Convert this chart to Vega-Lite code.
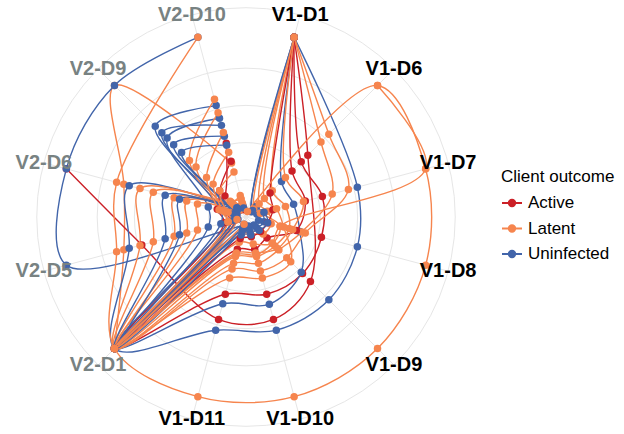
{
  "$schema": "https://vega.github.io/schema/vega-lite/v6.json",
  "width": 492,
  "height": 434,
  "padding": {"left": 0, "top": 0, "right": 132, "bottom": 0},
  "autosize": {"type": "none"},
  "background": "white",
  "config": {"view": {"stroke": null}, "font": "Liberation Sans"},
  "datasets": {
    "visits": [
      {"visit": "V1-D1", "k": 0, "grp": "V1"},
      {"visit": "V1-D6", "k": 1, "grp": "V1"},
      {"visit": "V1-D7", "k": 2, "grp": "V1"},
      {"visit": "V1-D8", "k": 3, "grp": "V1"},
      {"visit": "V1-D9", "k": 4, "grp": "V1"},
      {"visit": "V1-D10", "k": 5, "grp": "V1"},
      {"visit": "V1-D11", "k": 6, "grp": "V1"},
      {"visit": "V2-D1", "k": 7, "grp": "V2"},
      {"visit": "V2-D5", "k": 8, "grp": "V2"},
      {"visit": "V2-D6", "k": 9, "grp": "V2"},
      {"visit": "V2-D9", "k": 10, "grp": "V2"},
      {"visit": "V2-D10", "k": 11, "grp": "V2"}
    ],
    "grid": [{"g": 0.2}, {"g": 0.4}, {"g": 0.6}, {"g": 0.8}, {"g": 1.125}],
    "clients": [
      {"id": "O3", "outcome": "Latent", "visit": "V2-D1", "r": 1},
      {"id": "O3", "outcome": "Latent", "visit": "V2-D5", "r": 0.68},
      {"id": "O3", "outcome": "Latent", "visit": "V2-D6", "r": 0.68},
      {"id": "O3", "outcome": "Latent", "visit": "V2-D9", "r": 1},
      {"id": "O3", "outcome": "Latent", "visit": "V2-D10", "r": 0.3},

      {"id": "A3", "outcome": "Active", "visit": "V1-D1", "r": 1},
      {"id": "A3", "outcome": "Active", "visit": "V1-D6", "r": 0.47},
      {"id": "A3", "outcome": "Active", "visit": "V1-D9", "r": 0.49},
      {"id": "A3", "outcome": "Active", "visit": "V1-D10", "r": 0.57},
      {"id": "A3", "outcome": "Active", "visit": "V1-D11", "r": 0.57},
      {"id": "A3", "outcome": "Active", "visit": "V2-D5", "r": 0.58},
      {"id": "A3", "outcome": "Active", "visit": "V2-D6", "r": 1},

      {"id": "B1", "outcome": "Uninfected", "visit": "V1-D6", "r": 0.08},
      {"id": "B1", "outcome": "Uninfected", "visit": "V1-D7", "r": 0.09},
      {"id": "B1", "outcome": "Uninfected", "visit": "V1-D8", "r": 0.1},
      {"id": "B1", "outcome": "Uninfected", "visit": "V1-D9", "r": 0.08},
      {"id": "B1", "outcome": "Uninfected", "visit": "V1-D10", "r": 0.06},
      {"id": "B1", "outcome": "Uninfected", "visit": "V1-D11", "r": 0.05},
      {"id": "B1", "outcome": "Uninfected", "visit": "V2-D5", "r": 1},
      {"id": "B1", "outcome": "Uninfected", "visit": "V2-D6", "r": 1},
      {"id": "B1", "outcome": "Uninfected", "visit": "V2-D9", "r": 1},
      {"id": "B1", "outcome": "Uninfected", "visit": "V2-D10", "r": 1},

      {"id": "C18", "outcome": "Uninfected", "visit": "V1-D1", "r": 1},
      {"id": "C18", "outcome": "Uninfected", "visit": "V1-D6", "r": 0.04},
      {"id": "C18", "outcome": "Uninfected", "visit": "V1-D7", "r": 0.06},
      {"id": "C18", "outcome": "Uninfected", "visit": "V1-D8", "r": 0.07},
      {"id": "C18", "outcome": "Uninfected", "visit": "V1-D9", "r": 0.06},
      {"id": "C18", "outcome": "Uninfected", "visit": "V1-D10", "r": 0.05},
      {"id": "C18", "outcome": "Uninfected", "visit": "V1-D11", "r": 0.04},
      {"id": "C18", "outcome": "Uninfected", "visit": "V2-D1", "r": 1},
      {"id": "C18", "outcome": "Uninfected", "visit": "V2-D5", "r": 0.21},
      {"id": "C18", "outcome": "Uninfected", "visit": "V2-D6", "r": 0.21},
      {"id": "C18", "outcome": "Uninfected", "visit": "V2-D9", "r": 0.6},
      {"id": "C18", "outcome": "Uninfected", "visit": "V2-D10", "r": 0.55},

      {"id": "A1", "outcome": "Uninfected", "visit": "V1-D1", "r": 1},
      {"id": "A1", "outcome": "Uninfected", "visit": "V1-D7", "r": 0.62},
      {"id": "A1", "outcome": "Uninfected", "visit": "V1-D8", "r": 0.62},
      {"id": "A1", "outcome": "Uninfected", "visit": "V1-D9", "r": 0.63},
      {"id": "A1", "outcome": "Uninfected", "visit": "V1-D10", "r": 0.63},
      {"id": "A1", "outcome": "Uninfected", "visit": "V1-D11", "r": 0.63},
      {"id": "A1", "outcome": "Uninfected", "visit": "V2-D1", "r": 1},
      {"id": "A1", "outcome": "Uninfected", "visit": "V2-D5", "r": 0.65},
      {"id": "A1", "outcome": "Uninfected", "visit": "V2-D6", "r": 0.65},
      {"id": "A1", "outcome": "Uninfected", "visit": "V2-D9", "r": 0.08},
      {"id": "A1", "outcome": "Uninfected", "visit": "V2-D10", "r": 0.06},

      {"id": "A2", "outcome": "Active", "visit": "V1-D1", "r": 1},
      {"id": "A2", "outcome": "Active", "visit": "V1-D6", "r": 0.42},
      {"id": "A2", "outcome": "Active", "visit": "V1-D7", "r": 0.425},
      {"id": "A2", "outcome": "Active", "visit": "V1-D8", "r": 0.42},
      {"id": "A2", "outcome": "Active", "visit": "V1-D9", "r": 0.43},
      {"id": "A2", "outcome": "Active", "visit": "V1-D10", "r": 0.43},
      {"id": "A2", "outcome": "Active", "visit": "V1-D11", "r": 0.43},
      {"id": "A2", "outcome": "Active", "visit": "V2-D1", "r": 1},
      {"id": "A2", "outcome": "Active", "visit": "V2-D5", "r": 0.12},
      {"id": "A2", "outcome": "Active", "visit": "V2-D6", "r": 0.16},
      {"id": "A2", "outcome": "Active", "visit": "V2-D9", "r": 0.16},
      {"id": "A2", "outcome": "Active", "visit": "V2-D10", "r": 0.41},

      {"id": "A4", "outcome": "Uninfected", "visit": "V1-D1", "r": 1},
      {"id": "A4", "outcome": "Uninfected", "visit": "V1-D6", "r": 0.27},
      {"id": "A4", "outcome": "Uninfected", "visit": "V1-D7", "r": 0.265},
      {"id": "A4", "outcome": "Uninfected", "visit": "V1-D8", "r": 0.3},
      {"id": "A4", "outcome": "Uninfected", "visit": "V1-D9", "r": 0.42},
      {"id": "A4", "outcome": "Uninfected", "visit": "V1-D10", "r": 0.485},
      {"id": "A4", "outcome": "Uninfected", "visit": "V1-D11", "r": 0.483},
      {"id": "A4", "outcome": "Uninfected", "visit": "V2-D1", "r": 1},
      {"id": "A4", "outcome": "Uninfected", "visit": "V2-D5", "r": 0.1},
      {"id": "A4", "outcome": "Uninfected", "visit": "V2-D6", "r": 0.1},
      {"id": "A4", "outcome": "Uninfected", "visit": "V2-D9", "r": 0.69},
      {"id": "A4", "outcome": "Uninfected", "visit": "V2-D10", "r": 0.62},

      {"id": "A5", "outcome": "Latent", "visit": "V1-D1", "r": 1},
      {"id": "A5", "outcome": "Latent", "visit": "V1-D6", "r": 0.63},
      {"id": "A5", "outcome": "Latent", "visit": "V1-D7", "r": 0.57},
      {"id": "A5", "outcome": "Latent", "visit": "V1-D8", "r": 0.33},
      {"id": "A5", "outcome": "Latent", "visit": "V1-D9", "r": 0.31},
      {"id": "A5", "outcome": "Latent", "visit": "V1-D10", "r": 0.3},
      {"id": "A5", "outcome": "Latent", "visit": "V1-D11", "r": 0.29},
      {"id": "A5", "outcome": "Latent", "visit": "V2-D1", "r": 1},
      {"id": "A5", "outcome": "Latent", "visit": "V2-D5", "r": 0.59},
      {"id": "A5", "outcome": "Latent", "visit": "V2-D6", "r": 0.59},
      {"id": "A5", "outcome": "Latent", "visit": "V2-D9", "r": 0.1},
      {"id": "A5", "outcome": "Latent", "visit": "V2-D10", "r": 0.08},

      {"id": "A6", "outcome": "Latent", "visit": "V1-D1", "r": 1},
      {"id": "A6", "outcome": "Latent", "visit": "V1-D6", "r": 0.57},
      {"id": "A6", "outcome": "Latent", "visit": "V1-D7", "r": 0.48},
      {"id": "A6", "outcome": "Latent", "visit": "V1-D8", "r": 0.31},
      {"id": "A6", "outcome": "Latent", "visit": "V1-D9", "r": 0.25},
      {"id": "A6", "outcome": "Latent", "visit": "V1-D10", "r": 0.258},
      {"id": "A6", "outcome": "Latent", "visit": "V1-D11", "r": 0.258},
      {"id": "A6", "outcome": "Latent", "visit": "V2-D1", "r": 1},
      {"id": "A6", "outcome": "Latent", "visit": "V2-D5", "r": 0.516},
      {"id": "A6", "outcome": "Latent", "visit": "V2-D6", "r": 0.516},
      {"id": "A6", "outcome": "Latent", "visit": "V2-D9", "r": 0.12},
      {"id": "A6", "outcome": "Latent", "visit": "V2-D10", "r": 0.1},

      {"id": "A7", "outcome": "Active", "visit": "V1-D1", "r": 1},
      {"id": "A7", "outcome": "Active", "visit": "V1-D6", "r": 0.35},
      {"id": "A7", "outcome": "Active", "visit": "V1-D7", "r": 0.33},
      {"id": "A7", "outcome": "Active", "visit": "V1-D8", "r": 0.28},
      {"id": "A7", "outcome": "Active", "visit": "V1-D9", "r": 0.16},
      {"id": "A7", "outcome": "Active", "visit": "V1-D10", "r": 0.18},
      {"id": "A7", "outcome": "Active", "visit": "V1-D11", "r": 0.18},
      {"id": "A7", "outcome": "Active", "visit": "V2-D1", "r": 1},
      {"id": "A7", "outcome": "Active", "visit": "V2-D5", "r": 0.08},
      {"id": "A7", "outcome": "Active", "visit": "V2-D6", "r": 0.14},
      {"id": "A7", "outcome": "Active", "visit": "V2-D9", "r": 0.2},
      {"id": "A7", "outcome": "Active", "visit": "V2-D10", "r": 0.31},

      {"id": "A8", "outcome": "Latent", "visit": "V1-D1", "r": 1},
      {"id": "A8", "outcome": "Latent", "visit": "V1-D6", "r": 0.2},
      {"id": "A8", "outcome": "Latent", "visit": "V1-D7", "r": 0.22},
      {"id": "A8", "outcome": "Latent", "visit": "V1-D8", "r": 0.24},
      {"id": "A8", "outcome": "Latent", "visit": "V1-D9", "r": 0.22},
      {"id": "A8", "outcome": "Latent", "visit": "V1-D10", "r": 0.22},
      {"id": "A8", "outcome": "Latent", "visit": "V1-D11", "r": 0.22},
      {"id": "A8", "outcome": "Latent", "visit": "V2-D1", "r": 1},
      {"id": "A8", "outcome": "Latent", "visit": "V2-D5", "r": 0.4},
      {"id": "A8", "outcome": "Latent", "visit": "V2-D6", "r": 0.4},
      {"id": "A8", "outcome": "Latent", "visit": "V2-D9", "r": 0.09},
      {"id": "A8", "outcome": "Latent", "visit": "V2-D10", "r": 0.07},

      {"id": "A9", "outcome": "Latent", "visit": "V1-D1", "r": 1},
      {"id": "A9", "outcome": "Latent", "visit": "V1-D6", "r": 0.1},
      {"id": "A9", "outcome": "Latent", "visit": "V1-D7", "r": 0.12},
      {"id": "A9", "outcome": "Latent", "visit": "V1-D8", "r": 0.14},
      {"id": "A9", "outcome": "Latent", "visit": "V1-D9", "r": 0.13},
      {"id": "A9", "outcome": "Latent", "visit": "V1-D10", "r": 0.09},
      {"id": "A9", "outcome": "Latent", "visit": "V1-D11", "r": 0.09},
      {"id": "A9", "outcome": "Latent", "visit": "V2-D1", "r": 1},
      {"id": "A9", "outcome": "Latent", "visit": "V2-D5", "r": 0.06},
      {"id": "A9", "outcome": "Latent", "visit": "V2-D6", "r": 0.09},
      {"id": "A9", "outcome": "Latent", "visit": "V2-D9", "r": 0.38},
      {"id": "A9", "outcome": "Latent", "visit": "V2-D10", "r": 0.58},

      {"id": "A10", "outcome": "Latent", "visit": "V1-D1", "r": 1},
      {"id": "A10", "outcome": "Latent", "visit": "V1-D6", "r": 0.06},
      {"id": "A10", "outcome": "Latent", "visit": "V1-D7", "r": 0.08},
      {"id": "A10", "outcome": "Latent", "visit": "V1-D8", "r": 0.19},
      {"id": "A10", "outcome": "Latent", "visit": "V1-D9", "r": 0.2},
      {"id": "A10", "outcome": "Latent", "visit": "V1-D10", "r": 0.15},
      {"id": "A10", "outcome": "Latent", "visit": "V1-D11", "r": 0.14},
      {"id": "A10", "outcome": "Latent", "visit": "V2-D1", "r": 1},
      {"id": "A10", "outcome": "Latent", "visit": "V2-D5", "r": 0.33},
      {"id": "A10", "outcome": "Latent", "visit": "V2-D6", "r": 0.33},
      {"id": "A10", "outcome": "Latent", "visit": "V2-D9", "r": 0.11},
      {"id": "A10", "outcome": "Latent", "visit": "V2-D10", "r": 0.12},

      {"id": "A11", "outcome": "Active", "visit": "V1-D1", "r": 1},
      {"id": "A11", "outcome": "Active", "visit": "V1-D6", "r": 0.183},
      {"id": "A11", "outcome": "Active", "visit": "V1-D7", "r": 0.15},
      {"id": "A11", "outcome": "Active", "visit": "V1-D8", "r": 0.12},
      {"id": "A11", "outcome": "Active", "visit": "V1-D9", "r": 0.11},
      {"id": "A11", "outcome": "Active", "visit": "V1-D10", "r": 0.11},
      {"id": "A11", "outcome": "Active", "visit": "V1-D11", "r": 0.12},
      {"id": "A11", "outcome": "Active", "visit": "V2-D1", "r": 1},
      {"id": "A11", "outcome": "Active", "visit": "V2-D5", "r": 0.05},
      {"id": "A11", "outcome": "Active", "visit": "V2-D6", "r": 0.06},
      {"id": "A11", "outcome": "Active", "visit": "V2-D9", "r": 0.05},
      {"id": "A11", "outcome": "Active", "visit": "V2-D10", "r": 0.04},

      {"id": "A12", "outcome": "Latent", "visit": "V1-D1", "r": 1},
      {"id": "A12", "outcome": "Latent", "visit": "V1-D6", "r": 0.3},
      {"id": "A12", "outcome": "Latent", "visit": "V1-D7", "r": 0.32},
      {"id": "A12", "outcome": "Latent", "visit": "V1-D8", "r": 0.26},
      {"id": "A12", "outcome": "Latent", "visit": "V1-D9", "r": 0.24},
      {"id": "A12", "outcome": "Latent", "visit": "V1-D10", "r": 0.2},
      {"id": "A12", "outcome": "Latent", "visit": "V1-D11", "r": 0.2},
      {"id": "A12", "outcome": "Latent", "visit": "V2-D1", "r": 1},
      {"id": "A12", "outcome": "Latent", "visit": "V2-D5", "r": 0.08},
      {"id": "A12", "outcome": "Latent", "visit": "V2-D6", "r": 0.12},
      {"id": "A12", "outcome": "Latent", "visit": "V2-D9", "r": 0.43},
      {"id": "A12", "outcome": "Latent", "visit": "V2-D10", "r": 0.655},

      {"id": "A13", "outcome": "Uninfected", "visit": "V1-D1", "r": 1},
      {"id": "A13", "outcome": "Uninfected", "visit": "V1-D6", "r": 0.05},
      {"id": "A13", "outcome": "Uninfected", "visit": "V1-D7", "r": 0.1},
      {"id": "A13", "outcome": "Uninfected", "visit": "V1-D8", "r": 0.12},
      {"id": "A13", "outcome": "Uninfected", "visit": "V1-D9", "r": 0.1},
      {"id": "A13", "outcome": "Uninfected", "visit": "V1-D10", "r": 0.08},
      {"id": "A13", "outcome": "Uninfected", "visit": "V1-D11", "r": 0.07},
      {"id": "A13", "outcome": "Uninfected", "visit": "V2-D1", "r": 1},
      {"id": "A13", "outcome": "Uninfected", "visit": "V2-D5", "r": 0.14},
      {"id": "A13", "outcome": "Uninfected", "visit": "V2-D6", "r": 0.14},
      {"id": "A13", "outcome": "Uninfected", "visit": "V2-D9", "r": 0.64},
      {"id": "A13", "outcome": "Uninfected", "visit": "V2-D10", "r": 0.51},

      {"id": "A14", "outcome": "Latent", "visit": "V1-D1", "r": 1},
      {"id": "A14", "outcome": "Latent", "visit": "V1-D6", "r": 0.14},
      {"id": "A14", "outcome": "Latent", "visit": "V1-D7", "r": 0.17},
      {"id": "A14", "outcome": "Latent", "visit": "V1-D8", "r": 0.21},
      {"id": "A14", "outcome": "Latent", "visit": "V1-D9", "r": 0.34},
      {"id": "A14", "outcome": "Latent", "visit": "V1-D10", "r": 0.34},
      {"id": "A14", "outcome": "Latent", "visit": "V1-D11", "r": 0.34},
      {"id": "A14", "outcome": "Latent", "visit": "V2-D1", "r": 1},
      {"id": "A14", "outcome": "Latent", "visit": "V2-D5", "r": 0.27},
      {"id": "A14", "outcome": "Latent", "visit": "V2-D6", "r": 0.27},
      {"id": "A14", "outcome": "Latent", "visit": "V2-D9", "r": 0.05},
      {"id": "A14", "outcome": "Latent", "visit": "V2-D10", "r": 0.05},

      {"id": "C19", "outcome": "Uninfected", "visit": "V1-D11", "r": 0.06},
      {"id": "C19", "outcome": "Uninfected", "visit": "V2-D1", "r": 1},
      {"id": "C19", "outcome": "Uninfected", "visit": "V2-D5", "r": 0.07},
      {"id": "C19", "outcome": "Uninfected", "visit": "V2-D6", "r": 0.07},
      {"id": "C19", "outcome": "Uninfected", "visit": "V2-D9", "r": 0.55},
      {"id": "C19", "outcome": "Uninfected", "visit": "V2-D10", "r": 0.45},

      {"id": "C20", "outcome": "Uninfected", "visit": "V1-D10", "r": 0.1},
      {"id": "C20", "outcome": "Uninfected", "visit": "V1-D11", "r": 0.1},
      {"id": "C20", "outcome": "Uninfected", "visit": "V2-D1", "r": 1},
      {"id": "C20", "outcome": "Uninfected", "visit": "V2-D5", "r": 0.045},
      {"id": "C20", "outcome": "Uninfected", "visit": "V2-D6", "r": 0.05},
      {"id": "C20", "outcome": "Uninfected", "visit": "V2-D9", "r": 0.49},
      {"id": "C20", "outcome": "Uninfected", "visit": "V2-D10", "r": 0.4},

      {"id": "C21", "outcome": "Uninfected", "visit": "V1-D11", "r": 0.08},
      {"id": "C21", "outcome": "Uninfected", "visit": "V2-D1", "r": 1},
      {"id": "C21", "outcome": "Uninfected", "visit": "V2-D5", "r": 0.45},
      {"id": "C21", "outcome": "Uninfected", "visit": "V2-D6", "r": 0.45},
      {"id": "C21", "outcome": "Uninfected", "visit": "V2-D9", "r": 0.06},
      {"id": "C21", "outcome": "Uninfected", "visit": "V2-D10", "r": 0.05},

      {"id": "C22", "outcome": "Uninfected", "visit": "V2-D1", "r": 1},
      {"id": "C22", "outcome": "Uninfected", "visit": "V2-D5", "r": 0.37},
      {"id": "C22", "outcome": "Uninfected", "visit": "V2-D6", "r": 0.37},
      {"id": "C22", "outcome": "Uninfected", "visit": "V2-D9", "r": 0.07},

      {"id": "O1", "outcome": "Latent", "visit": "V1-D1", "r": 0.03},
      {"id": "O1", "outcome": "Latent", "visit": "V1-D6", "r": 1},
      {"id": "O1", "outcome": "Latent", "visit": "V1-D7", "r": 1},
      {"id": "O1", "outcome": "Latent", "visit": "V1-D8", "r": 1},
      {"id": "O1", "outcome": "Latent", "visit": "V1-D9", "r": 1},
      {"id": "O1", "outcome": "Latent", "visit": "V1-D10", "r": 1},
      {"id": "O1", "outcome": "Latent", "visit": "V1-D11", "r": 1},
      {"id": "O1", "outcome": "Latent", "visit": "V2-D1", "r": 1},
      {"id": "O1", "outcome": "Latent", "visit": "V2-D5", "r": 0.72},
      {"id": "O1", "outcome": "Latent", "visit": "V2-D6", "r": 0.72},
      {"id": "O1", "outcome": "Latent", "visit": "V2-D10", "r": 1},

      {"id": "O2", "outcome": "Latent", "visit": "V1-D6", "r": 1},
      {"id": "O2", "outcome": "Latent", "visit": "V1-D7", "r": 1},
      {"id": "O2", "outcome": "Latent", "visit": "V1-D8", "r": 0.19},
      {"id": "O2", "outcome": "Latent", "visit": "V1-D9", "r": 0.2},
      {"id": "O2", "outcome": "Latent", "visit": "V1-D10", "r": 0.21},
      {"id": "O2", "outcome": "Latent", "visit": "V1-D11", "r": 0.21},
      {"id": "O2", "outcome": "Latent", "visit": "V2-D1", "r": 1},
      {"id": "O2", "outcome": "Latent", "visit": "V2-D5", "r": 0.1},
      {"id": "O2", "outcome": "Latent", "visit": "V2-D6", "r": 0.15},
      {"id": "O2", "outcome": "Latent", "visit": "V2-D9", "r": 0.3},
      {"id": "O2", "outcome": "Latent", "visit": "V2-D10", "r": 0.47},

      {"id": "C23", "outcome": "Latent", "visit": "V1-D11", "r": 0.04},
      {"id": "C23", "outcome": "Latent", "visit": "V2-D1", "r": 1},
      {"id": "C23", "outcome": "Latent", "visit": "V2-D5", "r": 0.1},
      {"id": "C23", "outcome": "Latent", "visit": "V2-D6", "r": 0.13},
      {"id": "C23", "outcome": "Latent", "visit": "V2-D9", "r": 0.25},
      {"id": "C23", "outcome": "Latent", "visit": "V2-D10", "r": 0.36},

      {"id": "C24", "outcome": "Latent", "visit": "V2-D1", "r": 1},
      {"id": "C24", "outcome": "Latent", "visit": "V2-D5", "r": 0.05},
      {"id": "C24", "outcome": "Latent", "visit": "V2-D6", "r": 0.1},
      {"id": "C24", "outcome": "Latent", "visit": "V2-D9", "r": 0.2},
      {"id": "C24", "outcome": "Latent", "visit": "V2-D10", "r": 0.25}
    ]
  },
  "layer": [
    {
      "data": {"name": "grid"},
      "transform": [{"calculate": "0", "as": "c0"}],
      "mark": {"type": "point", "shape": "circle", "filled": false, "stroke": "#e6e6e6", "strokeWidth": 1, "opacity": 1},
      "encoding": {
        "x": {"field": "c0", "type": "quantitative", "scale": {"domain": [-1.3226, 1.3226], "nice": false, "zero": false}, "axis": null},
        "y": {"field": "c0", "type": "quantitative", "scale": {"domain": [-1.1667, 1.1667], "nice": false, "zero": false}, "axis": null},
        "size": {"field": "g", "type": "quantitative", "scale": {"type": "pow", "exponent": 2, "domain": [0, 1], "range": [0, 138384], "zero": true, "nice": false}, "legend": null}
      }
    },
    {
      "data": {"name": "visits"},
      "transform": [
        {"calculate": "(15 + 30 * datum.k) * PI / 180", "as": "a"},
        {"calculate": "0", "as": "c0"},
        {"calculate": "1.125 * sin(datum.a)", "as": "ex"},
        {"calculate": "1.125 * cos(datum.a)", "as": "ey"}
      ],
      "mark": {"type": "rule", "stroke": "#e6e6e6", "strokeWidth": 1},
      "encoding": {
        "x": {"field": "c0", "type": "quantitative", "scale": {"domain": [-1.3226, 1.3226], "nice": false, "zero": false}, "axis": null},
        "y": {"field": "c0", "type": "quantitative", "scale": {"domain": [-1.1667, 1.1667], "nice": false, "zero": false}, "axis": null},
        "x2": {"field": "ex"},
        "y2": {"field": "ey"}
      }
    },
    {
      "data": {"name": "clients"},
      "transform": [
        {"lookup": "visit", "from": {"data": {"name": "visits"}, "key": "visit", "fields": ["k"]}},
        {"calculate": "(15 + 30 * datum.k) * PI / 180", "as": "a"},
        {"calculate": "datum.r * sin(datum.a)", "as": "px"},
        {"calculate": "datum.r * cos(datum.a)", "as": "py"}
      ],
      "mark": {"type": "line", "interpolate": "catmull-rom", "strokeWidth": 1.4},
      "encoding": {
        "x": {"field": "px", "type": "quantitative", "scale": {"domain": [-1.3226, 1.3226], "nice": false, "zero": false}, "axis": null},
        "y": {"field": "py", "type": "quantitative", "scale": {"domain": [-1.1667, 1.1667], "nice": false, "zero": false}, "axis": null},
        "detail": {"field": "id", "type": "nominal"},
        "order": {"field": "k", "type": "quantitative"},
        "color": {"field": "outcome", "type": "nominal", "scale": {"domain": ["Active", "Latent", "Uninfected"], "range": ["#CB2027", "#F6854E", "#4265AA"]}}
      }
    },
    {
      "data": {"name": "clients"},
      "transform": [
        {"lookup": "visit", "from": {"data": {"name": "visits"}, "key": "visit", "fields": ["k"]}},
        {"calculate": "(15 + 30 * datum.k) * PI / 180", "as": "a"},
        {"calculate": "datum.r * sin(datum.a)", "as": "px"},
        {"calculate": "datum.r * cos(datum.a)", "as": "py"}
      ],
      "mark": {"type": "circle", "size": 56, "opacity": 1},
      "encoding": {
        "x": {"field": "px", "type": "quantitative", "scale": {"domain": [-1.3226, 1.3226], "nice": false, "zero": false}, "axis": null},
        "y": {"field": "py", "type": "quantitative", "scale": {"domain": [-1.1667, 1.1667], "nice": false, "zero": false}, "axis": null},
        "color": {
          "field": "outcome", "type": "nominal",
          "scale": {"domain": ["Active", "Latent", "Uninfected"], "range": ["#CB2027", "#F6854E", "#4265AA"]},
          "legend": {
            "title": "Client outcome", "orient": "none", "legendX": 501, "legendY": 169,
            "titleFontSize": 17, "titleFontWeight": "normal", "titleColor": "#000", "titlePadding": 6,
            "labelFontSize": 17, "labelColor": "#000", "labelOffset": 5,
            "symbolType": "M-1,0L1,0M-0.33,0A0.33,0.33,0,1,0,0.33,0A0.33,0.33,0,1,0,-0.33,0Z",
            "symbolSize": 400, "symbolStrokeWidth": 1.8, "rowPadding": 6.5
          }
        }
      }
    },
    {
      "data": {"name": "visits"},
      "transform": [
        {"calculate": "(15 + 30 * datum.k) * PI / 180", "as": "a"},
        {"calculate": "1.125 * sin(datum.a)", "as": "lx"},
        {"calculate": "1.125 * cos(datum.a)", "as": "ly"}
      ],
      "mark": {"type": "text", "fontSize": 20, "fontWeight": "bold", "align": "center", "baseline": "middle"},
      "encoding": {
        "x": {"field": "lx", "type": "quantitative", "scale": {"domain": [-1.3226, 1.3226], "nice": false, "zero": false}, "axis": null},
        "y": {"field": "ly", "type": "quantitative", "scale": {"domain": [-1.1667, 1.1667], "nice": false, "zero": false}, "axis": null},
        "text": {"field": "visit", "type": "nominal"},
        "color": {"condition": {"test": "datum.grp === 'V2'", "value": "#788282"}, "value": "#000000"}
      }
    }
  ]
}
